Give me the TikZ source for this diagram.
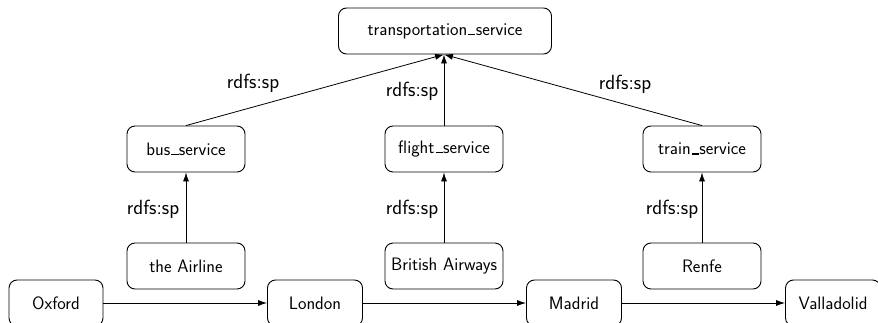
\documentclass[tikz,border=0pt]{standalone}
\usetikzlibrary{arrows.meta}
\newcommand\usc{\kern.06em\vbox{\hrule width .4em height 1.3pt}\kern.02em}
\begin{document}
\begin{tikzpicture}[x=1pt,y=-1pt,
  box/.style={draw, rounded corners=8pt, line width=0.9pt, minimum height=46pt, inner sep=0pt, font=\sffamily\fontsize{18}{21}\selectfont},
  lbl/.style={font=\sffamily\fontsize{20.5}{24}\selectfont, inner sep=0pt},
  arr/.style={-{Latex[length=9pt,width=6pt]}, line width=0.8pt}]
\useasboundingbox (0,0) rectangle (878,323);
\node[box, minimum width=213pt] (ts) at (445,31) {transportation\usc service};
\node[box, minimum width=118pt] (bus) at (186,149) {bus\usc service};
\node[box, minimum width=118pt] (fl) at (444,149) {flight\usc service};
\node[box, minimum width=118pt] (tr) at (702,149) {train\usc service};
\node[box, minimum width=118pt] (air) at (186,266) {the Airline};
\node[box, minimum width=118pt] (ba) at (444,266) {British Airways};
\node[box, minimum width=118pt] (re) at (702,266) {Renfe};
\node[box, minimum width=94pt] (ox) at (56,303) {Oxford};
\node[box, minimum width=95pt] (lo) at (315,303) {London};
\node[box, minimum width=95pt] (ma) at (574,303) {Madrid};
\node[box, minimum width=95pt] (va) at (833,303) {Valladolid};
\coordinate (tsin) at ([xshift=-1pt]ts.south);
\draw[arr] (bus.north) -- (tsin);
\draw[arr] (fl.north) -- (tsin);
\draw[arr] (tr.north) -- (tsin);
\draw[arr] (air) -- (bus);
\draw[arr] (ba) -- (fl);
\draw[arr] (re) -- (tr);
\draw[arr] (ox) -- (lo);
\draw[arr] (lo) -- (ma);
\draw[arr] (ma) -- (va);
\node[lbl] (l1) at (253,83) {rdfs:sp};
\node[lbl] (l2) at (412,91) {rdfs:sp};
\node[lbl] (l3) at (625,84) {rdfs:sp};
\node[lbl] (l4) at (153,209) {rdfs:sp};
\node[lbl] (l5) at (412,209) {rdfs:sp};
\node[lbl] (l6) at (672,209) {rdfs:sp};
\end{tikzpicture}
\end{document}
